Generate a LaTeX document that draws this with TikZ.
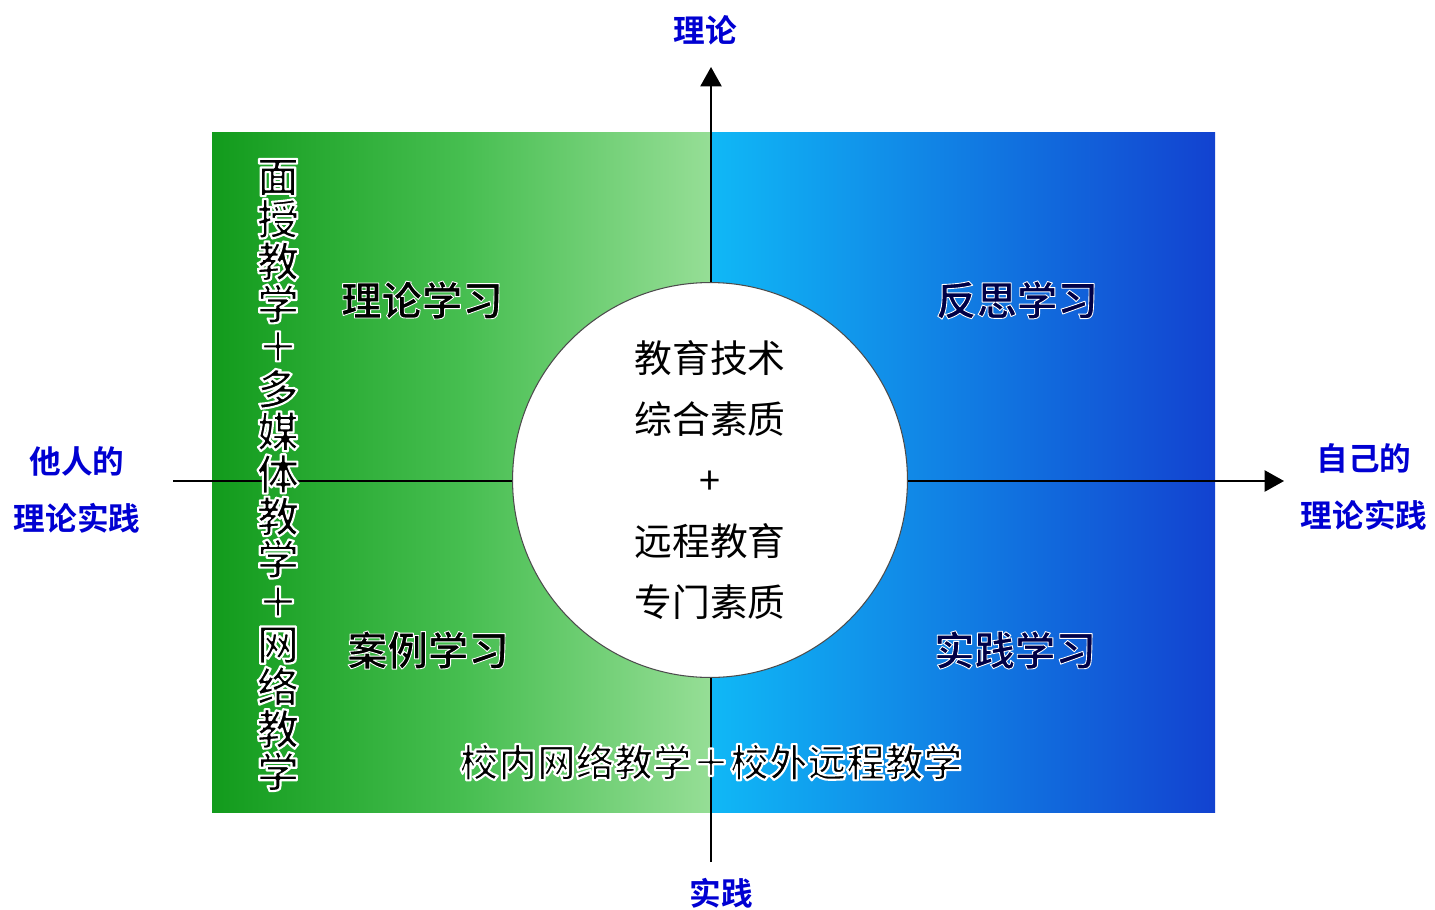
\documentclass[tikz,border=0pt]{standalone}
\usepackage{fontspec}
\setmainfont{Noto Sans CJK SC}
\newfontfamily\cjkb{Noto Sans CJK SC Bold}
\usetikzlibrary{arrows.meta}
\definecolor{gdark}{RGB}{18,155,28}
\definecolor{gmid}{RGB}{70,190,80}
\definecolor{glight}{RGB}{150,222,150}
\definecolor{blight}{RGB}{16,184,246}
\definecolor{bdark}{RGB}{18,66,208}
\definecolor{axisblue}{RGB}{0,0,210}
\definecolor{navy}{RGB}{0,0,70}
\newcommand{\halotext}[2][1.2]{\special{pdf:literal direct 2 Tr 1 j #1 w 1 1 1 RG}#2\special{pdf:literal direct 0 Tr}}
\tikzset{
  axislabel/.style={text=axisblue, font=\cjkb\fontsize{18}{32}\selectfont, align=center, inner sep=0pt},
  quadlabel/.style={font=\cjkb\fontsize{23}{23}\selectfont, inner sep=0pt},
  axisline/.style={draw=black, line width=1.1pt, -{Triangle[length=11pt,width=12pt]}},
}
\begin{document}
\begin{tikzpicture}[x=0.02cm,y=-0.02cm]
\useasboundingbox (0,0) rectangle (1435,909);
% shaded halves
\shade[left color=gdark, right color=glight, middle color=gmid] (212,132) rectangle (711,812);
\shade[left color=blight, right color=bdark] (711,132) rectangle (1215,812);
% axes
\coordinate (L) at (173,481);
\coordinate (R) at (1284,481);
\coordinate (B) at (711,862);
\coordinate (T) at (711,67);
\draw[axisline] (L) -- (R);
\draw[axisline] (B) -- (T);
% centre circle
\node[circle, draw=black!70, line width=0.6pt, fill=white, minimum size=7.9cm, inner sep=0pt] (C) at (710,480) {};
\node[font=\fontsize{21.5}{34.6}\selectfont, align=center, inner sep=0pt] (ctext) at (C.center) {教育技术\\综合素质\\+\\远程教育\\专门素质};
% axis labels
\node[axislabel] (top) at (705,30) {理论};
\node[axislabel] (bottom) at (721,893) {实践};
\node[axislabel] (left) at (77,490) {他人的\\理论实践};
\node[axislabel] (right) at (1364,487) {自己的\\理论实践};
% quadrant labels
\node[quadlabel, text=black] (q1) at (422,300) {\halotext[0.5]{理论学习}};
\node[quadlabel, text=navy] (q2) at (1017,300) {\halotext[0.5]{反思学习}};
\node[quadlabel, text=black] (q3) at (428,650) {\halotext[0.5]{案例学习}};
\node[quadlabel, text=navy] (q4) at (1015,650) {\halotext[0.5]{实践学习}};
% bottom and side texts
\node[font=\cjkb\fontsize{22}{22}\selectfont, inner sep=0pt] (btext) at (711,762) {\halotext{校内网络教学＋校外远程教学}};
\node[font=\cjkb\fontsize{24}{24.2}\selectfont, align=center, inner sep=0pt] (vtext) at (278,475) {\halotext{面\\授\\教\\学\\＋\\多\\媒\\体\\教\\学\\＋\\网\\络\\教\\学}};
\end{tikzpicture}
\end{document}
